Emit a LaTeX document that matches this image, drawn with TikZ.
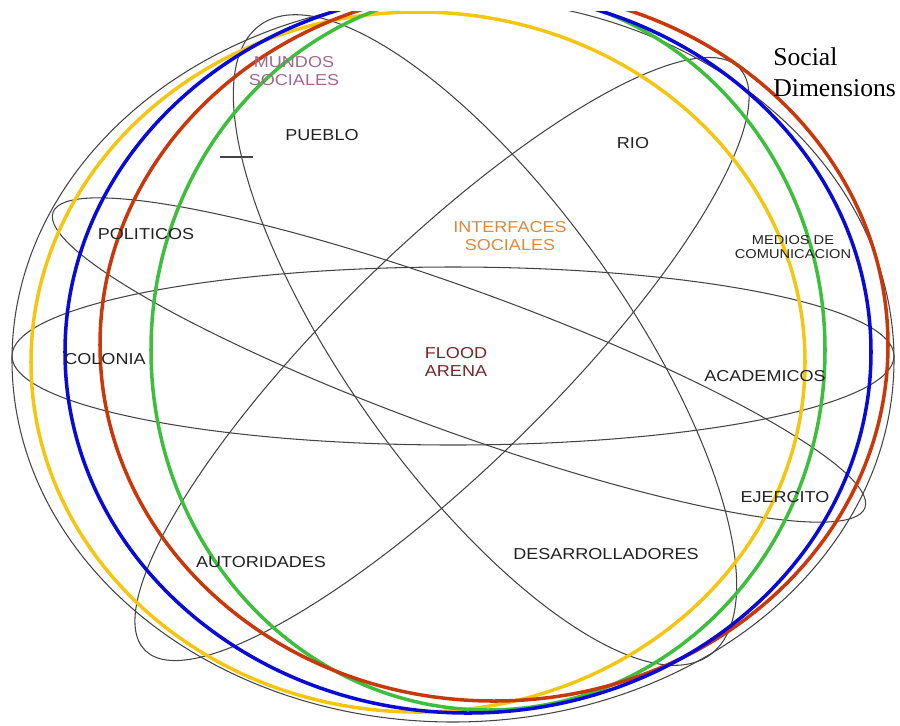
\documentclass[tikz,border=0pt]{standalone}
\usepackage{fontspec}
\setmainfont{Liberation Serif}
\newfontfamily\labelfont{Liberation Sans}[FakeStretch=1.14]
\usepackage{tikz}
\usetikzlibrary{positioning}
\definecolor{lineGrey}{HTML}{444444}
\definecolor{textGrey}{HTML}{222222}
\definecolor{sunYellow}{HTML}{F4C614}
\definecolor{leafGreen}{HTML}{3DBE3D}
\definecolor{deepBlue}{HTML}{0A0AD8}
\definecolor{rustRed}{HTML}{C8380A}
\definecolor{mauveText}{HTML}{A06890}
\definecolor{orangeText}{HTML}{E0883A}
\definecolor{maroonText}{HTML}{762626}

\begin{document}
\begin{tikzpicture}[x=0.02cm,y=-0.02cm,
  dimline/.style={draw=lineGrey,line width=0.6pt},
  ring/.style={line width=2pt},
  actor/.style={font=\labelfont\fontsize{9}{10.5}\selectfont,text=textGrey,inner sep=0pt,align=center},
  smallactor/.style={actor,font=\labelfont\fontsize{7.3}{7.9}\selectfont}]
\useasboundingbox (0,0) rectangle (900,725);
\begin{scope}
\clip (0,11) rectangle (900,725);
\draw[dimline] (453,360) ellipse [x radius=441,y radius=362];
\draw[dimline] (453,356) ellipse [x radius=441,y radius=89];
\draw[dimline,rotate around={-20:(459,360)}] (459,360) ellipse [x radius=432,y radius=71];
\draw[dimline,rotate around={-54.5:(485,340)}] (485,340) ellipse [x radius=387,y radius=139];
\draw[dimline,rotate around={44.4:(442,359)}] (442,359) ellipse [x radius=416,y radius=110];
\draw[ring,sunYellow] (418,362) ellipse [x radius=387,y radius=350];
\draw[ring,leafGreen] (488,350) ellipse [x radius=337,y radius=360];
\draw[ring,rustRed] (494,345) ellipse [x radius=394,y radius=356];
\draw[ring,deepBlue] (468,352) ellipse [x radius=403,y radius=361];
\end{scope}
\coordinate (tickL) at (220,157);
\coordinate (tickR) at (253,157);
\draw[dimline] (tickL) -- (tickR);

\node[actor,text=mauveText] (mundos) at (294,71) {MUNDOS\\SOCIALES};
\node[actor] (pueblo) at (322,135) {PUEBLO};
\node[actor] (rio) at (633,143) {RIO};
\node[actor,text=orangeText] (interfaces) at (510,236) {INTERFACES\\SOCIALES};
\node[smallactor] (medios) at (793,247) {MEDIOS DE\\COMUNICACION};
\node[actor] (politicos) at (146,234) {POLITICOS};
\node[actor] (colonia) at (105,359) {COLONIA};
\node[actor,text=maroonText] (arena) at (456,362) {FLOOD\\ARENA};
\node[actor] (academicos) at (765,376) {ACADEMICOS};
\node[actor] (ejercito) at (785,497) {EJERCITO};
\node[actor] (autoridades) at (261,562) {AUTORIDADES};
\node[actor] (desarrolladores) at (606,554) {DESARROLLADORES};
\node[anchor=north west,inner sep=0pt,align=left,font=\fontsize{14.6}{18}\selectfont] (dimTitle) at (773,47) {Social\\Dimensions};
\end{tikzpicture}
\end{document}
